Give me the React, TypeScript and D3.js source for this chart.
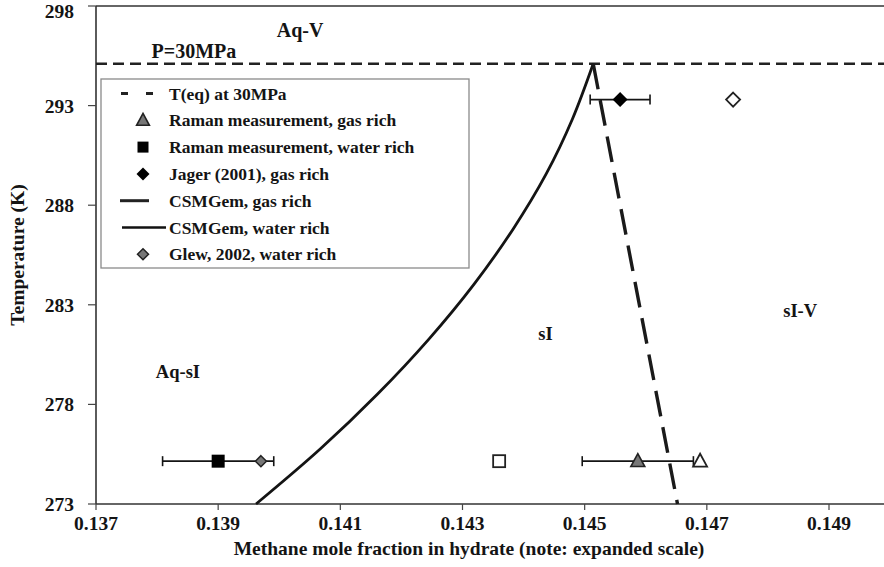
import React from "react";
import * as d3 from "d3";

// Axis ticks
const xTicks = [0.137, 0.139, 0.141, 0.143, 0.145, 0.147, 0.149];
const yTicks = [273, 278, 283, 288, 293, 298];

// Equilibrium temperature at 30 MPa
const tEq = 295.1;

// CSMGem model curves
const waterRichX = [0.13962, 0.14067, 0.14161, 0.14245, 0.14319, 0.14383, 0.14437, 0.1448, 0.14514];
const waterRichT = [273.0, 275.76, 278.52, 281.28, 284.04, 286.81, 289.57, 292.33, 295.1];
const gasRichX = [0.14514, 0.14652];
const gasRichT = [295.1, 273.0];

// Measurements
const ramanGasX = [0.14587];
const ramanGasT = [275.15];
const ramanGasErr = [0.00091];
const ramanWaterX = [0.139];
const ramanWaterT = [275.15];
const ramanWaterErr = [0.00091];
const jagerX = [0.14558];
const jagerT = [293.3];
const jagerErr = [0.00049];
const glewX = [0.1397];
const glewT = [275.15];
// Unlabelled open symbols
const openSquareX = [0.1436];
const openSquareT = [275.15];
const openTriangleX = [0.14689];
const openTriangleT = [275.15];
const openDiamondX = [0.14743];
const openDiamondT = [293.3];

const legendLabels = [
  "T(eq) at 30MPa",
  "Raman measurement, gas rich",
  "Raman measurement, water rich",
  "Jager (2001), gas rich",
  "CSMGem, gas rich",
  "CSMGem, water rich",
  "Glew, 2002, water rich",
];

// Phase-region annotations
const regionLabels = ["Aq-V", "P=30MPa", "sI", "sI-V", "Aq-sI"];
const regionX = [0.13996, 0.13791, 0.14424, 0.14825, 0.13798];
const regionT = [296.44, 295.39, 281.23, 282.39, 279.33];
const regionSize = [20, 20, 18.5, 18.5, 18.5];

const W = 884;
const H = 567;
const FONT = "'Liberation Serif', 'Times New Roman', serif";
const INK = "#141414";

const x = d3.scaleLinear().domain([0.137, 0.149]).range([96, 829]);
const y = d3.scaleLinear().domain([273, 298]).range([504, 6]);
const xMax = x.invert(W);

const tri = (cx: number, cy: number, s: number) =>
  `M${cx},${cy - s * 0.62}L${cx + s * 0.58},${cy + s * 0.45}L${cx - s * 0.58},${cy + s * 0.45}Z`;
const diamond = (cx: number, cy: number, s: number) =>
  `M${cx},${cy - s / 2}L${cx + s / 2},${cy}L${cx},${cy + s / 2}L${cx - s / 2},${cy}Z`;

function ErrorBar({ cx, t, err }: { cx: number; t: number; err: number }) {
  const x0 = x(cx - err);
  const x1 = x(cx + err);
  const cy = y(t);
  return (
    <g stroke={INK} strokeWidth={1.6}>
      <line x1={x0} x2={x1} y1={cy} y2={cy} />
      <line x1={x0} x2={x0} y1={cy - 5} y2={cy + 5} />
      <line x1={x1} x2={x1} y1={cy - 5} y2={cy + 5} />
    </g>
  );
}

export default function App() {
  const waterLine = d3
    .line<number>()
    .x((_, i) => x(waterRichX[i]))
    .y((_, i) => y(waterRichT[i]))
    .curve(d3.curveCatmullRom.alpha(0.5))(waterRichT);
  const gasLine = d3
    .line<number>()
    .x((_, i) => x(gasRichX[i]))
    .y((_, i) => y(gasRichT[i]))(gasRichT);

  const legX = 101;
  const legY = 79;
  const legW = 368;
  const legH = 189;
  const rowY = (i: number) => 93.5 + i * 26.8;
  const symX = 143;
  const textX = 169;

  return (
    <svg
      width={W}
      height={H}
      viewBox={`0 0 ${W} ${H}`}
      style={{ position: "absolute", left: 0, top: 0, background: "#fff" }}
      fontFamily={FONT}
      fontWeight="bold"
    >
      <rect x={0} y={0} width={W} height={H} fill="#fff" />

      {/* frame */}
      <line x1={x(0.137)} x2={W} y1={y(298)} y2={y(298)} stroke="#333" strokeWidth={1.6} />
      <line x1={x(0.137)} x2={x(0.137)} y1={y(298)} y2={y(273)} stroke="#333" strokeWidth={1.6} />
      <line x1={x(0.137)} x2={W} y1={y(273)} y2={y(273)} stroke="#333" strokeWidth={1.6} />

      {/* y axis */}
      {yTicks.map((t) => (
        <g key={t}>
          <line x1={x(0.137) - 8} x2={x(0.137)} y1={y(t)} y2={y(t)} stroke="#444" strokeWidth={1.2} />
          <text x={74} y={Math.max(y(t) + 7, 18)} textAnchor="end" fontSize={19.5} fill={INK}>
            {t}
          </text>
        </g>
      ))}
      <text
        transform={`translate(24,${(y(273) + y(298)) / 2}) rotate(-90)`}
        textAnchor="middle"
        fontSize={19.5}
        fill={INK}
      >
        Temperature (K)
      </text>

      {/* x axis */}
      {xTicks.map((v) => (
        <g key={v}>
          <line x1={x(v)} x2={x(v)} y1={y(273)} y2={y(273) + 6} stroke="#444" strokeWidth={1.2} />
          <text x={x(v)} y={530} textAnchor="middle" fontSize={19.5} fill={INK}>
            {v.toFixed(3)}
          </text>
        </g>
      ))}
      <text x={469} y={555} textAnchor="middle" fontSize={19.5} fill={INK}>
        Methane mole fraction in hydrate (note: expanded scale)
      </text>

      {/* T(eq) line */}
      <line
        x1={x(0.137)}
        x2={x(xMax)}
        y1={y(tEq)}
        y2={y(tEq)}
        stroke="#222"
        strokeWidth={2.6}
        strokeDasharray="11,6"
      />

      {/* region labels */}
      {regionLabels.map((s, i) => (
        <text key={s} x={x(regionX[i])} y={y(regionT[i])} fontSize={regionSize[i]} fill={INK}>
          {s}
        </text>
      ))}

      {/* CSMGem curves */}
      <path d={waterLine ?? ""} fill="none" stroke={INK} strokeWidth={2.8} />
      <path d={gasLine ?? ""} fill="none" stroke="#1a1a1a" strokeWidth={3.4} strokeDasharray="26,11" />

      {/* error bars */}
      <ErrorBar cx={ramanWaterX[0]} t={ramanWaterT[0]} err={ramanWaterErr[0]} />
      <ErrorBar cx={ramanGasX[0]} t={ramanGasT[0]} err={ramanGasErr[0]} />
      <ErrorBar cx={jagerX[0]} t={jagerT[0]} err={jagerErr[0]} />

      {/* markers */}
      {ramanWaterX.map((v, i) => (
        <rect key={"rw" + i} x={x(v) - 6.5} y={y(ramanWaterT[i]) - 6.5} width={13} height={13} fill="#000" />
      ))}
      {glewX.map((v, i) => (
        <path key={"gl" + i} d={diamond(x(v), y(glewT[i]), 11)} fill="#777" stroke="#222" strokeWidth={1.5} />
      ))}
      {openSquareX.map((v, i) => (
        <rect key={"os" + i} x={x(v) - 6} y={y(openSquareT[i]) - 6} width={12} height={12} fill="#fff" stroke="#222" strokeWidth={1.8} />
      ))}
      {ramanGasX.map((v, i) => (
        <path key={"rg" + i} d={tri(x(v), y(ramanGasT[i]), 12)} fill="#777" stroke="#222" strokeWidth={1.6} />
      ))}
      {openTriangleX.map((v, i) => (
        <path key={"ot" + i} d={tri(x(v), y(openTriangleT[i]), 12)} fill="#fff" stroke="#222" strokeWidth={1.8} />
      ))}
      {jagerX.map((v, i) => (
        <path key={"jg" + i} d={diamond(x(v), y(jagerT[i]), 15)} fill="#000" />
      ))}
      {openDiamondX.map((v, i) => (
        <path key={"od" + i} d={diamond(x(v), y(openDiamondT[i]), 14)} fill="#fff" stroke="#222" strokeWidth={1.8} />
      ))}

      {/* legend */}
      <rect x={legX} y={legY} width={legW} height={legH} fill="#fff" stroke="#8a8a8a" strokeWidth={1.3} />
      <line x1={121} x2={153} y1={rowY(0)} y2={rowY(0)} stroke="#222" strokeWidth={3} strokeDasharray="7,18" />
      <path d={tri(symX, rowY(1), 11)} fill="#777" stroke="#222" strokeWidth={1.6} />
      <rect x={symX - 5.5} y={rowY(2) - 5.5} width={11} height={11} fill="#000" />
      <path d={diamond(symX, rowY(3), 13)} fill="#000" />
      <line x1={120} x2={149} y1={rowY(4)} y2={rowY(4)} stroke="#222" strokeWidth={3} />
      <line x1={122} x2={166} y1={rowY(5)} y2={rowY(5)} stroke="#111" strokeWidth={2.6} />
      <path d={diamond(symX, rowY(6), 11)} fill="#777" stroke="#222" strokeWidth={1.5} />
      {legendLabels.map((s, i) => (
        <text key={s} x={textX} y={rowY(i) + 6} fontSize={17.5} fill={INK}>
          {s}
        </text>
      ))}
    </svg>
  );
}
